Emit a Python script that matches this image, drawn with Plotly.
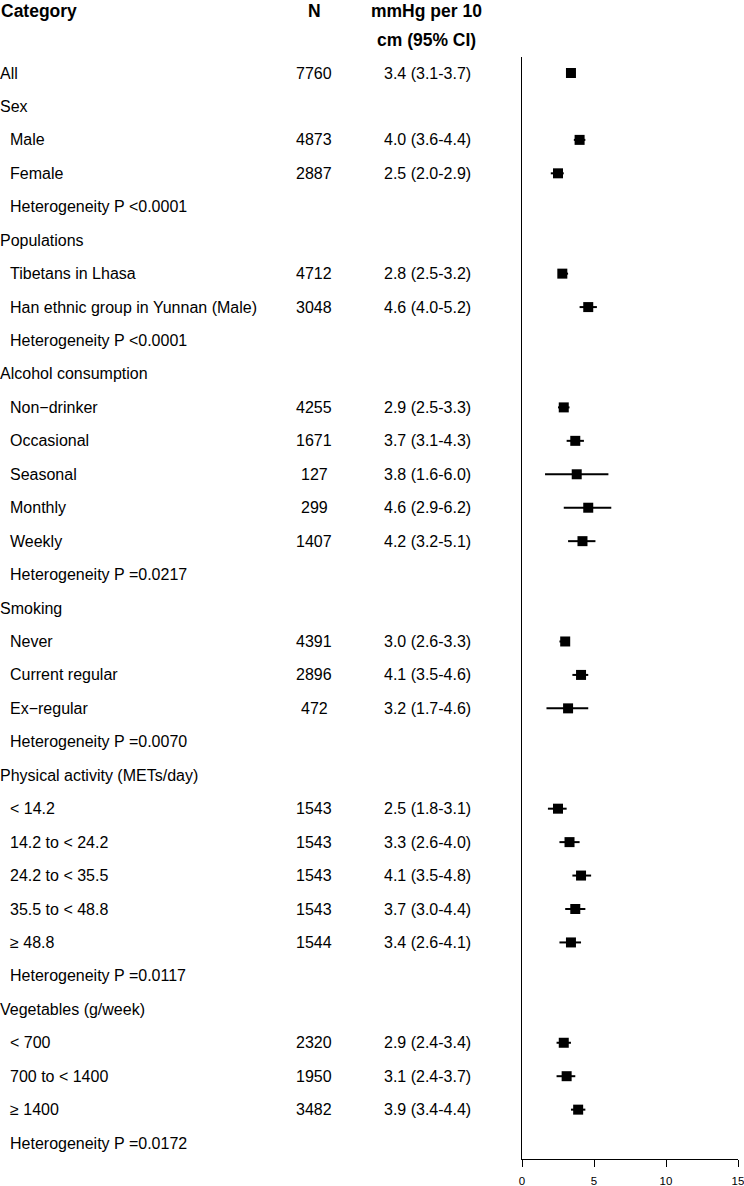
import plotly.graph_objects as go

labels = ["All", "Sex", "Male", "Female", "Heterogeneity P <0.0001",
          "Populations", "Tibetans in Lhasa", "Han ethnic group in Yunnan (Male)", "Heterogeneity P <0.0001",
          "Alcohol consumption", "Non\u2212drinker", "Occasional", "Seasonal", "Monthly", "Weekly", "Heterogeneity P =0.0217",
          "Smoking", "Never", "Current regular", "Ex\u2212regular", "Heterogeneity P =0.0070",
          "Physical activity (METs/day)", "< 14.2", "14.2 to < 24.2", "24.2 to < 35.5", "35.5 to < 48.8", "\u2265 48.8", "Heterogeneity P =0.0117",
          "Vegetables (g/week)", "< 700", "700 to < 1400", "\u2265 1400", "Heterogeneity P =0.0172"]
indent = [0, 0, 1, 1, 1,
          0, 1, 1, 1,
          0, 1, 1, 1, 1, 1, 1,
          0, 1, 1, 1, 1,
          0, 1, 1, 1, 1, 1, 1,
          0, 1, 1, 1, 1]
n_vals = ["7760", "", "4873", "2887", "",
          "", "4712", "3048", "",
          "", "4255", "1671", "127", "299", "1407", "",
          "", "4391", "2896", "472", "",
          "", "1543", "1543", "1543", "1543", "1544", "",
          "", "2320", "1950", "3482", ""]
est = [3.4, None, 4.0, 2.5, None,
       None, 2.8, 4.6, None,
       None, 2.9, 3.7, 3.8, 4.6, 4.2, None,
       None, 3.0, 4.1, 3.2, None,
       None, 2.5, 3.3, 4.1, 3.7, 3.4, None,
       None, 2.9, 3.1, 3.9, None]
lo = [3.1, None, 3.6, 2.0, None,
      None, 2.5, 4.0, None,
      None, 2.5, 3.1, 1.6, 2.9, 3.2, None,
      None, 2.6, 3.5, 1.7, None,
      None, 1.8, 2.6, 3.5, 3.0, 2.6, None,
      None, 2.4, 2.4, 3.4, None]
hi = [3.7, None, 4.4, 2.9, None,
      None, 3.2, 5.2, None,
      None, 3.3, 4.3, 6.0, 6.2, 5.1, None,
      None, 3.3, 4.6, 4.6, None,
      None, 3.1, 4.0, 4.8, 4.4, 4.1, None,
      None, 3.4, 3.7, 4.4, None]
x_ticks = [0, 5, 10, 15]

W, H = 744, 1186
row0_px, row_step = 73.0, 33.44

rows = list(range(len(labels)))
px = [r for r, e in zip(rows, est) if e is not None]
ex = [e for e in est if e is not None]
eplus = [h - e for h, e in zip(hi, est) if e is not None]
eminus = [e - l for l, e in zip(lo, est) if e is not None]

fig = go.Figure()
fig.add_trace(go.Scatter(
    x=ex, y=px, mode="markers",
    marker=dict(symbol="square", size=10, color="black"),
    error_x=dict(type="data", array=eplus, arrayminus=eminus, width=0, thickness=2, color="black"),
    showlegend=False, hoverinfo="skip", cliponaxis=False,
))

FAM = "Liberation Sans, Arial, sans-serif"
font = dict(family=FAM, size=16, color="black")
hfont = dict(family=FAM, size=17.5, color="black")
ann = []
for r, (lab, ind, n, e, l, h) in enumerate(zip(labels, indent, n_vals, est, lo, hi)):
    ann.append(dict(x=(8 if ind else -2) / W, y=r, xref="paper", yref="y", text=lab,
                    xanchor="left", yanchor="middle", showarrow=False, font=font))
    if n:
        ann.append(dict(x=314 / W, y=r, xref="paper", yref="y", text=n,
                        xanchor="center", yanchor="middle", showarrow=False, font=font))
    if e is not None:
        ann.append(dict(x=427 / W, y=r, xref="paper", yref="y", text=f"{e:.1f} ({l:.1f}-{h:.1f})",
                        xanchor="center", yanchor="middle", showarrow=False, font=font))

def py(p):
    return 1 - p / H

ann.append(dict(x=0 / W, y=py(0), xref="paper", yref="paper", text="<b>Category</b>", xanchor="left",
                yanchor="top", borderpad=0, showarrow=False, font=hfont))
ann.append(dict(x=314 / W, y=py(0), xref="paper", yref="paper", text="<b>N</b>", xanchor="center",
                yanchor="top", borderpad=0, showarrow=False, font=hfont))
ann.append(dict(x=426 / W, y=py(0), xref="paper", yref="paper", text="<b>mmHg per 10</b>", xanchor="center",
                yanchor="top", borderpad=0, showarrow=False, font=hfont))
ann.append(dict(x=426.5 / W, y=py(40), xref="paper", yref="paper", text="<b>cm (95% CI)</b>", xanchor="center",
                yanchor="middle", showarrow=False, font=hfont))

y_top_px, y_bot_px = 57, 1159
r_top = (y_top_px - row0_px) / row_step
r_bot = (y_bot_px - row0_px) / row_step

fig.update_layout(
    width=W, height=H, margin=dict(l=0, r=0, t=0, b=0),
    paper_bgcolor="white", plot_bgcolor="white",
    annotations=ann,
    xaxis=dict(domain=[522 / W, 738 / W], range=[0, 15], tickvals=x_ticks, ticks="outside", ticklen=7,
               tickcolor="black", showline=True, linecolor="black", linewidth=1, showgrid=False,
               zeroline=False, ticklabeloverflow="allow", ticklabelstandoff=4, automargin=False,
               tickfont=dict(family=FAM, size=11.5, color="black")),
    yaxis=dict(domain=[(H - y_bot_px) / H, (H - y_top_px) / H], range=[r_bot, r_top], showline=True,
               linecolor="black", linewidth=1, showticklabels=False, ticks="", showgrid=False, zeroline=False,
               automargin=False),
)
fig.write_html("out.html", config={"displayModeBar": False},
               post_script="document.body.style.margin='0';document.body.style.overflow='hidden';")
